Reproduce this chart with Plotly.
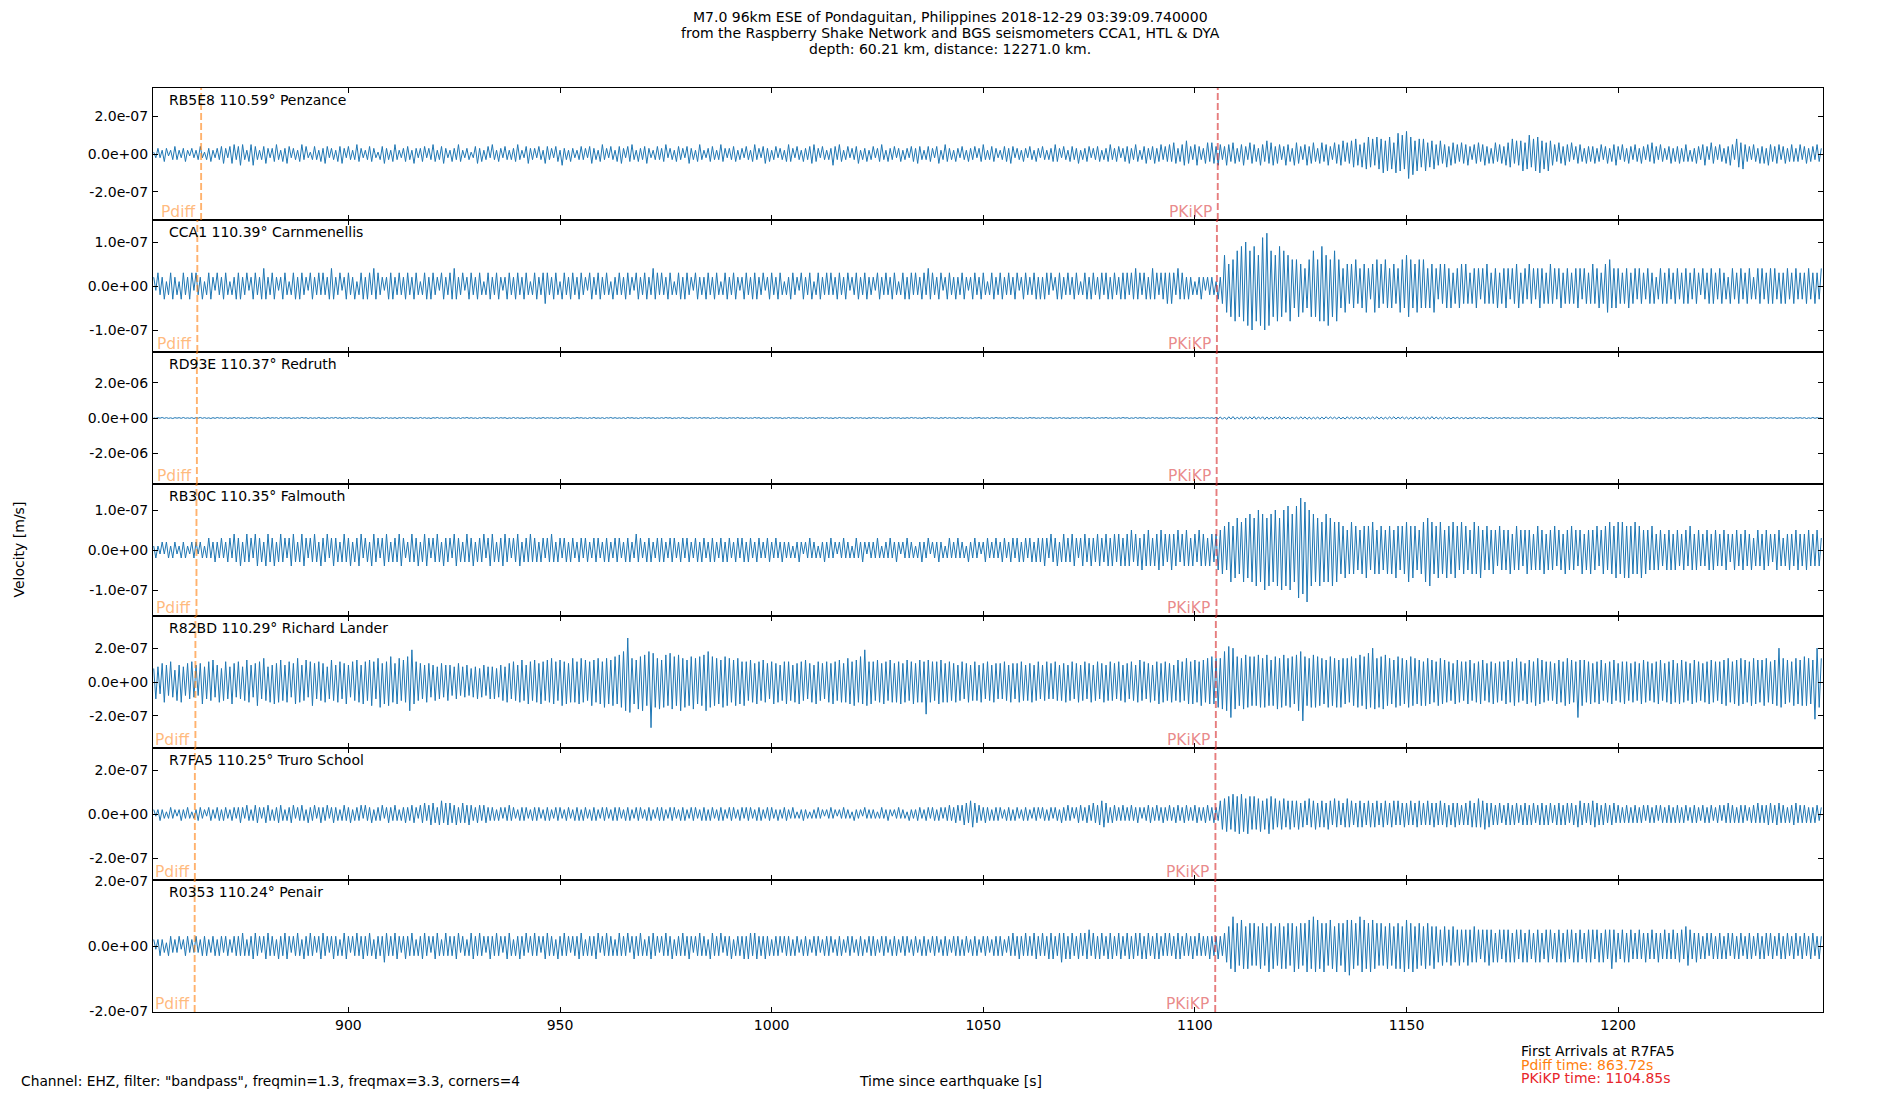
import plotly.graph_objects as go
from plotly.subplots import make_subplots

# ---------------- data: velocity samples in units of 1e-8 m/s, every DT seconds from T0 ----------------
T0 = 854.0
DT = 0.5
UNIT = 1e-8

stations = ["RB5E8 110.59° Penzance", "CCA1 110.39° Carnmenellis", "RD93E 110.37° Redruth",
            "RB30C 110.35° Falmouth", "R82BD 110.29° Richard Lander", "R7FA5 110.25° Truro School",
            "R0353 110.24° Penair"]

rb5e8 = [
    1,-2,3,-2,2,-4,3,-1,2,-3,4,-3,2,-2,3,-4,2,-1,3,-2,
    2,-3,4,-2,1,-3,3,-4,2,-2,3,-3,4,-5,3,-2,4,-5,5,-3,
    4,-6,5,-3,2,-4,5,-6,4,-3,2,-3,4,-5,3,-2,3,-4,5,-3,
    2,-4,3,-5,4,-2,3,-3,2,-4,5,-3,4,-2,1,-3,4,-3,2,-4,
    3,-5,4,-2,3,-3,2,-4,4,-5,3,-2,4,-3,2,-3,5,-4,3,-2,
    2,-3,4,-4,3,-2,1,-3,4,-5,3,-3,2,-4,5,-3,2,-2,3,-4,
    4,-3,2,-5,3,-2,3,-4,4,-2,3,-3,5,-4,2,-3,4,-5,3,-2,
    2,-4,3,-3,5,-4,2,-2,3,-3,1,-2,4,-5,3,-4,2,-3,4,-2,
    5,-3,2,-4,3,-2,4,-3,2,-3,3,-4,5,-3,2,-2,4,-5,3,-3,
    3,-2,4,-3,2,-5,4,-3,3,-2,4,-4,2,-6,3,-3,2,-4,3,-2,
    2,-3,4,-3,3,-2,4,-5,3,-3,2,-4,5,-3,3,-2,4,-3,2,-4,
    4,-5,3,-2,4,-4,5,-3,2,-4,3,-3,4,-5,3,-2,2,-3,4,-3,
    3,-4,5,-2,3,-3,2,-4,4,-3,3,-2,4,-5,3,-3,2,-4,5,-3,
    2,-2,3,-4,4,-3,2,-3,5,-4,3,-2,3,-3,4,-4,2,-3,3,-2,
    4,-3,2,-4,5,-3,3,-2,4,-5,3,-4,2,-3,4,-2,3,-3,2,-4,
    5,-4,3,-2,4,-3,2,-4,3,-3,4,-5,5,-4,3,-2,4,-3,2,-3,
    3,-6,4,-3,5,-4,2,-3,4,-2,3,-3,4,-5,2,-3,3,-4,2,-3,
    4,-2,3,-4,5,-3,2,-4,3,-3,4,-2,3,-4,2,-3,3,-2,4,-4,
    3,-5,4,-3,2,-3,4,-4,3,-2,4,-5,2,-3,5,-4,3,-3,2,-4,
    3,-2,4,-3,2,-4,3,-3,4,-2,3,-4,5,-3,2,-3,4,-4,3,-2,
    2,-3,4,-4,3,-5,4,-2,3,-3,2,-4,3,-2,4,-3,2,-4,3,-2,
    4,-3,2,-3,3,-4,5,-4,3,-2,4,-3,2,-4,4,-3,3,-5,2,-3,
    3,-4,4,-2,3,-3,4,-4,2,-3,3,-4,5,-3,3,-4,4,-2,3,-4,
    4,-5,3,-3,5,-4,2,-3,4,-5,3,-3,4,-5,3,-4,5,-3,4,-4,
    5,-4,6,-5,3,-4,5,-6,7,-5,4,-3,5,-6,4,-3,3,-5,6,-4,
    6,-5,4,-6,5,-3,4,-6,5,-4,6,-5,3,-4,5,-6,4,-3,6,-5,
    5,-4,3,-6,5,-4,7,-5,6,-6,4,-5,5,-3,4,-6,5,-4,3,-6,
    6,-5,4,-3,5,-6,4,-5,6,-4,3,-5,6,-4,5,-6,4,-3,6,-5,
    5,-6,7,-4,6,-5,7,-7,8,-6,5,-7,6,-8,9,-7,8,-6,9,-8,
    8,-10,7,-9,9,-8,6,-10,11,-9,10,-8,12,-13,9,-11,7,-9,8,-7,
    8,-9,6,-7,7,-8,5,-6,7,-5,5,-7,4,-6,6,-5,5,-4,6,-5,
    5,-6,4,-3,5,-5,6,-4,5,-6,4,-5,3,-5,6,-4,5,-5,4,-6,
    6,-7,8,-5,7,-6,7,-9,6,-8,10,-7,8,-9,9,-10,7,-8,6,-9,
    7,-6,5,-4,6,-5,4,-6,5,-4,6,-3,4,-5,5,-4,3,-5,4,-4,
    4,-5,3,-4,5,-3,4,-5,3,-4,5,-6,4,-3,5,-4,3,-5,4,-3,
    5,-4,3,-5,4,-3,5,-4,6,-5,4,-3,5,-4,3,-3,4,-5,3,-4,
    4,-5,3,-4,5,-4,2,-4,3,-5,4,-3,5,-6,4,-3,6,-5,4,-3,
    5,-4,3,-5,4,-6,5,-3,8,-7,6,-8,5,-4,4,-3,5,-4,3,-5,
    4,-5,3,-6,5,-4,4,-5,5,-3,4,-5,3,-4,5,-4,3,-4,5,-3,
    4,-5,3,-4,4,-3,5,-4,3]

cca1 = [
    2,-1,3,-2,2,-3,1,-2,3,-3,2,-2,1,-3,3,-2,2,-3,3,-1,
    3,-2,2,-3,1,-2,3,-3,2,-1,3,-2,2,-3,3,-2,1,-2,2,-3,
    3,-3,2,-2,3,-1,2,-3,3,-2,2,-3,4,-3,2,-2,3,-3,2,-1,
    2,-3,3,-2,1,-2,3,-3,2,-3,3,-2,2,-1,3,-3,2,-2,3,-2,
    3,-2,2,-3,4,-3,2,-2,3,-1,2,-3,3,-2,2,-3,1,-2,3,-3,
    2,-3,3,-2,4,-3,3,-2,2,-1,2,-3,3,-3,2,-2,3,-2,2,-3,
    3,-2,2,-3,3,-2,1,-2,3,-3,2,-3,3,-2,2,-1,3,-3,2,-2,
    3,-3,4,-3,2,-2,3,-1,2,-3,3,-2,2,-3,3,-2,1,-2,3,-3,
    2,-2,3,-3,2,-1,2,-3,3,-2,2,-3,3,-2,2,-3,3,-2,1,-2,
    3,-3,2,-2,3,-4,3,-2,2,-3,3,-2,1,-3,3,-2,2,-3,3,-2,
    2,-3,3,-2,2,-1,3,-3,2,-2,3,-3,2,-2,3,-2,1,-3,2,-2,
    3,-2,2,-3,3,-2,2,-1,3,-3,2,-2,3,-3,2,-2,4,-3,3,-2,
    3,-2,2,-3,3,-2,1,-2,3,-3,2,-3,3,-2,2,-1,3,-3,2,-2,
    2,-3,3,-2,2,-3,3,-2,1,-2,3,-3,2,-2,3,-3,2,-1,2,-3,
    3,-2,2,-3,3,-3,2,-2,3,-1,2,-3,3,-2,2,-3,3,-2,1,-2,
    2,-3,3,-2,2,-1,3,-3,2,-2,3,-3,1,-2,3,-3,2,-2,3,-2,
    3,-2,2,-3,3,-2,2,-3,3,-1,2,-2,3,-3,2,-2,3,-3,2,-2,
    2,-1,3,-3,2,-2,3,-2,2,-3,3,-2,1,-2,3,-3,2,-3,3,-2,
    3,-2,2,-3,3,-2,4,-3,3,-2,2,-3,3,-1,2,-3,3,-2,2,-3,
    2,-2,3,-3,2,-1,2,-3,3,-2,2,-3,3,-2,1,-2,3,-3,2,-2,
    3,-3,2,-2,3,-2,2,-3,3,-1,2,-3,3,-2,2,-2,3,-3,2,-3,
    2,-3,3,-2,3,-1,2,-3,3,-3,2,-2,3,-2,2,-3,3,-2,1,-2,
    3,-3,2,-3,3,-2,2,-3,3,-2,3,-3,2,-3,3,-2,2,-3,3,-3,
    3,-2,3,-3,4,-3,3,-2,3,-3,2,-3,4,-3,3,-2,3,-3,3,-4,
    3,-4,3,-2,4,-3,3,-3,2,-3,2,-2,1,-2,2,-3,2,-1,2,-2,
    2,-2,1,-3,2,-4,7,-6,5,-7,6,-8,8,-7,9,-8,10,-9,8,-10,
    9,-8,7,-9,11,-10,12,-9,8,-7,7,-8,9,-7,8,-6,7,-8,6,-5,
    6,-7,5,-6,4,-5,6,-7,8,-7,6,-8,9,-8,7,-9,6,-7,8,-8,
    6,-5,4,-6,5,-4,5,-5,6,-4,4,-5,5,-6,4,-3,5,-6,6,-5,
    5,-4,6,-5,4,-5,5,-4,4,-6,6,-5,7,-7,6,-5,5,-6,6,-5,
    6,-5,4,-5,5,-6,4,-3,5,-4,5,-5,4,-5,3,-4,4,-5,5,-4,
    5,-4,3,-4,4,-5,4,-3,4,-4,5,-4,3,-4,4,-5,3,-4,4,-5,
    4,-3,4,-4,5,-5,3,-4,4,-3,5,-4,4,-3,4,-5,4,-4,3,-4,
    5,-4,4,-3,4,-5,3,-4,4,-4,3,-4,4,-5,4,-3,4,-4,3,-4,
    5,-4,4,-5,3,-4,5,-6,6,-5,4,-5,4,-4,3,-4,4,-5,3,-4,
    4,-3,4,-4,3,-3,4,-4,3,-4,2,-3,4,-4,3,-4,4,-3,3,-4,
    4,-3,3,-4,4,-4,3,-3,4,-4,3,-2,4,-3,3,-4,4,-4,3,-3,
    4,-4,3,-3,2,-4,4,-3,3,-4,4,-3,3,-4,4,-3,2,-3,4,-4,
    4,-3,3,-4,4,-4,4,-3,3,-4,3,-4,4,-3,3,-4,4,-3,3,-3,
    3,-4,4,-3,3,-4,3,-3,4]

rd93e = [
    1,-2,2,-1,3,-2,2,-2,1,-3,2,-1,2,-2,3,-2,1,-2,2,-3,
    2,-1,3,-2,2,-2,1,-3,2,-2,3,-1,2,-2,2,-3,1,-2,3,-2,
    2,-2,1,-3,2,-2,3,-1,2,-2,2,-3,1,-2,3,-2,2,-1,2,-3,
    3,-2,2,-1,2,-3,1,-2,2,-2,3,-1,2,-3,2,-2,1,-2,3,-2,
    1,-3,2,-2,2,-1,3,-2,2,-3,1,-2,2,-2,3,-1,2,-2,1,-3,
    2,-2,3,-1,2,-2,1,-3,2,-2,3,-2,1,-2,2,-3,2,-1,3,-2,
    2,-1,2,-3,1,-2,3,-2,2,-2,1,-3,2,-1,3,-2,2,-2,1,-2,
    3,-2,1,-2,2,-3,2,-1,3,-2,2,-2,1,-3,2,-2,3,-1,2,-2,
    1,-2,3,-2,2,-1,2,-3,1,-2,3,-2,2,-2,1,-3,2,-1,2,-2,
    2,-3,1,-2,3,-2,2,-1,2,-2,1,-3,3,-2,2,-1,2,-3,1,-2,
    3,-1,2,-2,1,-3,2,-2,3,-2,1,-2,2,-3,2,-1,3,-2,2,-2,
    1,-2,2,-3,3,-1,2,-2,1,-3,2,-2,3,-1,2,-2,2,-3,1,-2,
    2,-2,3,-1,2,-3,1,-2,2,-2,3,-2,1,-3,2,-1,2,-2,3,-2,
    2,-1,2,-3,1,-2,3,-2,2,-2,1,-3,2,-1,2,-2,3,-2,1,-3,
    2,-2,1,-2,3,-1,2,-3,2,-2,1,-2,3,-2,2,-1,2,-3,1,-2,
    3,-2,2,-1,2,-2,1,-3,3,-2,2,-2,1,-3,2,-1,3,-2,2,-2,
    1,-3,2,-2,3,-1,2,-2,1,-2,3,-3,2,-1,2,-2,1,-3,2,-2,
    3,-1,2,-2,2,-3,1,-2,3,-2,2,-1,2,-3,1,-2,2,-2,3,-1,
    2,-2,1,-3,2,-2,3,-1,2,-2,1,-3,2,-2,3,-2,2,-1,1,-3,
    2,-2,3,-2,1,-2,2,-3,2,-1,3,-2,1,-2,2,-3,2,-2,3,-1,
    1,-2,2,-3,2,-1,3,-2,2,-2,1,-3,2,-2,3,-1,2,-2,1,-2,
    3,-2,2,-1,2,-3,1,-2,3,-2,2,-2,1,-3,2,-1,2,-2,3,-2,
    2,-1,3,-2,1,-3,2,-2,2,-1,3,-2,2,-3,1,-2,2,-2,3,-1,
    2,-3,1,-2,3,-2,2,-1,2,-3,1,-2,3,-2,2,-2,1,-3,2,-2,
    3,-1,2,-2,1,-3,2,-2,3,-2,1,-2,2,-3,2,-1,3,-2,2,-2,
    2,-3,4,-5,6,-7,5,-8,7,-6,8,-7,5,-6,7,-8,6,-5,7,-6,
    8,-7,6,-5,7,-8,6,-7,5,-6,7,-6,8,-7,6,-5,5,-7,6,-6,
    5,-6,7,-5,6,-7,5,-6,4,-5,6,-7,5,-6,7,-5,6,-4,5,-6,
    6,-5,4,-6,7,-5,6,-6,5,-4,6,-7,5,-6,4,-5,6,-5,7,-6,
    5,-6,4,-5,6,-5,7,-6,5,-4,6,-5,5,-6,4,-6,7,-6,5,-5,
    6,-7,5,-6,8,-6,5,-5,4,-6,5,-4,3,-5,4,-3,4,-4,3,-4,
    3,-4,2,-3,4,-3,2,-3,3,-2,3,-4,2,-3,3,-2,2,-3,3,-2,
    2,-3,3,-2,1,-2,3,-2,2,-3,2,-1,2,-3,3,-2,1,-2,2,-3,
    3,-2,2,-1,2,-3,1,-2,2,-2,3,-1,2,-3,2,-2,1,-2,3,-2,
    1,-3,2,-2,2,-1,3,-2,2,-3,1,-2,2,-2,3,-1,2,-2,1,-3,
    2,-2,3,-1,2,-2,1,-3,2,-2,3,-2,1,-2,2,-3,2,-1,3,-2,
    2,-1,2,-3,1,-2,3,-2,2,-2,1,-3,2,-1,3,-2,2,-2,1,-2,
    3,-2,1,-2,2,-3,2,-1,3,-2,2,-2,1,-3,2,-2,3,-1,2,-2,
    1,-2,3,-2,2,-1,2,-3,1,-2,3,-2,2,-2,1,-3,2,-1,2,-2,
    2,-3,1,-2,3,-2,2,-1,2]

rb30c = [
    1,-2,1,-1,2,-1,2,-2,1,-2,2,-1,1,-2,2,-2,1,-1,2,-2,
    2,-1,2,-2,1,-2,3,-2,2,-3,2,-2,3,-2,2,-3,3,-2,4,-3,
    3,-4,2,-3,4,-3,3,-2,4,-4,3,-3,2,-4,4,-3,3,-4,2,-3,
    4,-3,3,-2,3,-4,4,-3,2,-3,4,-4,3,-2,3,-3,4,-3,2,-4,
    3,-3,4,-2,3,-4,3,-3,2,-3,4,-3,3,-4,2,-3,3,-4,4,-2,
    3,-3,2,-4,4,-3,3,-2,3,-4,4,-3,2,-3,3,-3,4,-4,3,-2,
    2,-3,4,-3,3,-4,2,-3,4,-4,3,-2,3,-3,4,-3,2,-4,3,-3,
    3,-2,4,-4,3,-3,2,-3,4,-3,3,-4,2,-3,3,-3,4,-2,3,-4,
    4,-3,2,-3,3,-4,4,-3,3,-2,3,-3,4,-4,2,-3,3,-3,4,-3,
    3,-3,2,-3,3,-2,3,-3,4,-3,2,-3,3,-2,3,-3,2,-3,3,-2,
    2,-3,3,-2,3,-3,2,-2,3,-3,3,-2,2,-3,3,-3,2,-2,3,-3,
    3,-2,2,-3,3,-3,2,-2,4,-3,3,-2,2,-3,3,-3,2,-2,3,-3,
    3,-3,2,-2,3,-3,3,-2,2,-3,3,-2,3,-3,2,-2,3,-3,2,-3,
    3,-2,2,-3,3,-3,2,-2,3,-3,2,-3,3,-2,2,-3,3,-2,3,-3,
    2,-3,3,-2,2,-3,3,-2,2,-2,3,-3,2,-2,3,-2,2,-3,2,-2,
    2,-2,1,-2,2,-3,2,-1,2,-2,3,-2,2,-2,1,-2,2,-3,2,-2,
    3,-2,2,-1,2,-2,3,-2,2,-2,1,-2,3,-2,2,-3,2,-1,2,-2,
    2,-2,3,-2,1,-2,2,-2,3,-2,2,-3,2,-1,2,-2,3,-2,2,-2,
    1,-2,2,-3,2,-2,3,-1,2,-2,2,-3,2,-2,1,-2,3,-2,2,-2,
    3,-2,2,-2,1,-3,2,-2,3,-2,2,-1,2,-3,3,-2,2,-2,3,-2,
    2,-3,3,-2,2,-3,3,-2,3,-3,2,-3,3,-2,3,-3,2,-3,3,-3,
    3,-4,3,-2,4,-3,3,-4,2,-3,4,-3,3,-3,4,-4,3,-2,3,-4,
    4,-3,3,-4,3,-3,4,-4,3,-3,4,-4,3,-4,4,-3,4,-4,3,-4,
    4,-4,5,-3,4,-4,3,-5,4,-4,5,-4,3,-4,4,-5,5,-4,4,-3,
    4,-5,4,-4,5,-3,4,-4,5,-4,3,-4,4,-3,5,-4,4,-4,3,-4,
    4,-3,4,-5,5,-6,6,-5,7,-8,6,-7,8,-6,7,-8,8,-7,9,-8,
    8,-9,10,-8,9,-10,8,-9,9,-8,10,-9,8,-10,10,-9,11,-10,9,-8,
    11,-12,13,-11,12,-13,10,-9,9,-8,8,-9,7,-8,9,-8,8,-9,7,-8,
    7,-6,6,-7,5,-6,7,-6,6,-5,5,-6,6,-7,6,-5,7,-6,5,-6,
    6,-5,5,-6,6,-6,5,-7,6,-5,6,-6,7,-8,6,-7,6,-5,5,-6,
    7,-8,8,-9,7,-6,6,-7,7,-6,5,-7,6,-6,7,-7,6,-5,7,-6,
    6,-5,5,-6,7,-6,6,-7,5,-5,6,-5,5,-6,5,-4,6,-5,5,-5,
    5,-6,4,-5,6,-5,5,-4,5,-6,5,-5,4,-5,6,-5,5,-6,4,-5,
    5,-5,6,-4,5,-5,4,-6,5,-5,6,-5,5,-4,5,-6,4,-5,5,-6,
    5,-5,6,-4,5,-6,6,-5,7,-6,6,-7,7,-6,7,-7,6,-7,6,-6,
    7,-6,6,-7,5,-6,5,-5,6,-5,4,-5,5,-4,4,-5,5,-5,4,-5,
    5,-4,4,-5,5,-4,6,-5,4,-5,5,-4,4,-4,5,-5,4,-5,5,-4,
    4,-4,5,-5,4,-3,4,-5,5,-4,4,-5,5,-4,4,-5,3,-4,5,-4,
    4,-5,5,-4,4,-3,4,-5,5,-4,3,-4,4,-5,4,-4,5,-5,4,-4,
    4,-5,5,-4,4,-4,5,-4,3]

r82bd = [
    8,-10,9,-7,11,-12,10,-8,12,-9,7,-11,10,-12,9,-8,11,-10,12,-9,
    10,-8,11,-13,9,-10,12,-11,13,-9,10,-12,8,-11,12,-10,9,-13,11,-9,
    12,-10,9,-11,13,-12,10,-9,11,-14,12,-10,14,-11,9,-12,10,-13,11,-12,
    13,-11,10,-12,12,-9,11,-13,14,-12,10,-11,13,-9,12,-14,11,-10,12,-11,
    11,-12,9,-10,13,-11,10,-12,12,-10,11,-13,10,-9,12,-11,13,-12,10,-13,
    12,-11,13,-14,12,-10,14,-15,11,-13,12,-14,15,-12,11,-13,14,-11,13,-12,
    15,-17,19,-13,12,-11,11,-10,10,-12,11,-9,10,-11,9,-10,11,-9,10,-11,
    10,-8,9,-10,11,-8,9,-9,10,-8,8,-9,9,-10,8,-9,10,-8,9,-10,
    9,-10,8,-9,10,-11,9,-12,11,-10,12,-11,10,-12,13,-11,10,-13,12,-11,
    13,-12,11,-13,12,-11,13,-12,14,-13,12,-11,13,-14,12,-13,11,-12,14,-12,
    12,-13,14,-12,13,-11,12,-14,13,-12,14,-13,12,-15,14,-13,13,-14,15,-13,
    16,-15,18,-17,26,-18,14,-13,13,-16,15,-17,16,-14,18,-27,17,-15,14,-16,
    13,-15,16,-14,17,-16,15,-14,16,-17,14,-15,13,-14,15,-16,14,-13,15,-14,
    16,-17,18,-15,15,-14,14,-13,13,-15,15,-14,14,-12,13,-14,14,-13,12,-14,
    12,-11,13,-12,11,-13,12,-11,13,-12,11,-10,12,-13,11,-12,10,-11,12,-13,
    12,-11,10,-12,11,-13,12,-11,13,-10,11,-12,10,-13,12,-11,11,-10,12,-12,
    11,-13,12,-11,13,-12,11,-12,14,-13,12,-14,13,-12,15,-13,19,-14,12,-13,
    12,-11,13,-12,11,-13,12,-11,13,-12,11,-12,12,-13,11,-12,13,-11,12,-13,
    11,-12,13,-12,12,-19,13,-12,12,-11,12,-13,13,-12,11,-12,12,-11,11,-12,
    10,-11,12,-10,11,-12,10,-11,12,-11,10,-12,11,-10,12,-11,10,-12,11,-10,
    11,-10,12,-11,10,-12,11,-10,11,-12,12,-11,10,-11,11,-12,10,-11,12,-10,
    10,-11,12,-10,11,-10,12,-11,10,-11,11,-12,10,-11,12,-10,11,-12,10,-11,
    12,-10,11,-12,10,-11,12,-10,11,-12,10,-11,12,-11,11,-10,12,-11,10,-12,
    11,-10,12,-11,10,-12,13,-11,12,-10,11,-12,10,-11,12,-13,11,-12,12,-11,
    11,-12,10,-11,13,-12,12,-11,14,-13,12,-13,13,-12,12,-14,13,-12,14,-13,
    15,-13,14,-15,14,-16,18,-17,21,-21,20,-16,15,-14,14,-16,16,-15,15,-14,
    15,-14,16,-15,14,-15,16,-14,13,-14,15,-16,14,-15,16,-14,14,-15,15,-13,
    16,-17,18,-23,15,-14,14,-15,16,-15,15,-14,14,-13,13,-15,15,-14,14,-15,
    13,-15,14,-13,14,-12,15,-14,14,-15,16,-14,15,-16,17,-15,20,-16,14,-15,
    15,-16,16,-14,14,-13,13,-15,15,-14,14,-13,13,-15,15,-14,14,-13,13,-14,
    12,-14,14,-13,13,-12,12,-14,14,-13,13,-12,12,-11,11,-13,13,-12,12,-11,
    12,-13,13,-11,11,-12,12,-13,13,-11,11,-12,12,-13,11,-12,12,-11,12,-13,
    13,-12,12,-14,14,-12,12,-11,11,-13,13,-12,12,-14,14,-13,13,-12,12,-11,
    12,-11,11,-13,13,-12,12,-14,14,-13,13,-12,12,-21,13,-14,13,-12,12,-13,
    11,-12,12,-13,13,-11,11,-12,12,-13,13,-11,11,-12,12,-13,12,-11,11,-12,
    12,-11,11,-13,13,-12,12,-11,11,-12,12,-13,13,-11,11,-12,12,-13,13,-12,
    11,-13,13,-12,12,-11,11,-13,13,-12,12,-11,11,-12,12,-13,13,-12,12,-11,
    12,-13,13,-14,14,-12,12,-13,13,-14,14,-13,13,-12,12,-14,14,-13,13,-12,
    13,-14,14,-12,12,-13,13,-14,20,-15,14,-13,13,-12,12,-14,14,-13,13,-14,
    15,-14,14,-13,13,-22,20,-15,14]

r7fa5 = [
    2,-1,2,-3,2,-2,1,-2,3,-2,2,-1,2,-3,2,-2,3,-2,1,-2,
    2,-3,3,-2,2,-1,3,-3,2,-2,3,-3,2,-3,3,-2,2,-3,3,-2,
    3,-4,3,-2,4,-3,2,-3,4,-4,3,-2,3,-4,4,-3,2,-3,3,-4,
    4,-3,2,-3,3,-4,4,-2,3,-3,4,-3,2,-4,3,-3,4,-2,3,-4,
    3,-3,4,-2,3,-4,3,-3,2,-3,4,-3,3,-4,2,-3,3,-3,4,-2,
    4,-3,3,-4,2,-3,3,-3,4,-2,3,-4,3,-3,4,-3,2,-3,3,-4,
    3,-3,4,-4,3,-2,4,-4,5,-3,4,-5,5,-4,3,-5,6,-4,5,-5,
    5,-4,4,-5,3,-4,5,-4,4,-5,4,-3,3,-4,4,-3,4,-4,3,-3,
    3,-3,2,-3,3,-2,3,-3,4,-3,3,-2,2,-3,3,-3,3,-2,2,-3,
    3,-3,3,-2,2,-3,3,-3,2,-2,3,-3,3,-2,2,-3,3,-2,2,-3,
    3,-3,2,-3,3,-2,2,-3,3,-3,2,-2,3,-3,3,-2,2,-3,3,-3,
    3,-2,2,-3,3,-3,2,-2,3,-3,3,-2,2,-3,3,-3,2,-2,3,-3,
    3,-3,2,-2,3,-3,3,-2,2,-3,3,-3,2,-2,3,-3,3,-2,2,-3,
    3,-3,2,-3,3,-2,2,-3,3,-3,2,-2,3,-3,3,-2,2,-3,3,-2,
    3,-3,3,-2,2,-3,3,-3,2,-2,3,-3,3,-2,2,-3,2,-2,3,-3,
    2,-2,3,-2,1,-2,2,-3,2,-2,1,-2,2,-2,3,-2,2,-1,2,-2,
    3,-2,2,-1,2,-2,3,-2,2,-2,1,-3,2,-2,2,-1,3,-2,2,-2,
    2,-2,1,-2,3,-2,2,-3,2,-1,2,-2,3,-2,2,-2,1,-3,2,-2,
    2,-3,3,-2,2,-3,3,-2,3,-3,2,-3,3,-2,3,-3,4,-3,3,-4,
    4,-3,4,-5,5,-4,6,-6,5,-4,4,-3,3,-4,3,-3,2,-3,3,-3,
    3,-2,2,-3,3,-3,2,-3,3,-2,2,-3,3,-3,2,-2,3,-3,3,-2,
    3,-3,2,-3,3,-2,3,-3,2,-4,3,-3,4,-3,3,-2,3,-4,4,-3,
    3,-4,4,-3,5,-4,4,-5,6,-6,5,-4,3,-4,4,-3,3,-3,4,-3,
    3,-3,4,-3,3,-4,3,-2,3,-3,4,-4,3,-3,4,-3,3,-4,3,-3,
    4,-3,3,-4,4,-3,3,-4,4,-3,3,-3,4,-4,3,-3,3,-4,4,-3,
    3,-4,3,-3,6,-7,7,-8,8,-7,9,-8,8,-9,9,-8,7,-9,8,-7,
    8,-7,7,-8,6,-7,7,-9,8,-7,7,-6,6,-7,7,-6,6,-7,6,-6,
    6,-7,5,-6,6,-5,7,-6,6,-7,5,-6,6,-6,5,-7,6,-5,7,-6,
    6,-5,5,-6,7,-6,6,-5,5,-6,6,-6,5,-5,6,-6,5,-6,6,-5,
    5,-6,6,-5,5,-6,6,-5,6,-5,5,-6,5,-5,6,-5,5,-6,6,-5,
    5,-5,6,-5,5,-6,5,-5,6,-5,5,-6,4,-5,5,-6,5,-5,4,-5,
    5,-5,6,-6,5,-6,7,-6,6,-7,5,-6,5,-5,4,-5,5,-4,4,-5,
    5,-5,4,-5,5,-4,4,-5,5,-5,4,-5,5,-4,4,-5,5,-5,4,-5,
    5,-4,4,-5,5,-5,4,-5,5,-4,5,-5,4,-6,6,-5,5,-4,5,-5,
    6,-6,5,-5,4,-5,5,-4,4,-5,5,-4,4,-4,3,-4,4,-4,3,-4,
    4,-4,3,-4,4,-3,4,-4,3,-4,4,-3,4,-4,3,-4,4,-4,3,-4,
    4,-4,3,-4,4,-3,3,-4,4,-4,3,-3,4,-4,3,-4,4,-3,3,-4,
    4,-3,4,-4,5,-4,4,-4,3,-4,4,-4,4,-3,3,-4,4,-4,5,-4,
    4,-4,4,-5,5,-4,4,-5,5,-4,4,-4,3,-4,4,-5,5,-4,4,-4,
    4,-4,3,-4,3,-4,4,-3,3]

r0353 = [
    2,-1,2,-3,2,-2,1,-3,3,-2,2,-2,3,-1,2,-3,3,-2,2,-2,
    3,-2,2,-3,3,-3,2,-2,3,-3,2,-3,3,-2,3,-3,2,-2,3,-3,
    3,-3,4,-3,2,-3,3,-4,4,-3,3,-2,3,-4,4,-3,3,-3,2,-4,
    3,-3,4,-4,3,-2,3,-3,4,-3,2,-4,3,-3,4,-3,3,-2,3,-4,
    4,-3,3,-2,3,-4,3,-3,2,-3,4,-4,3,-2,3,-3,4,-3,3,-4,
    3,-3,4,-3,2,-4,3,-3,3,-5,4,-3,3,-3,4,-4,3,-2,3,-4,
    3,-3,4,-3,2,-3,3,-4,4,-3,3,-2,3,-4,4,-3,2,-3,4,-3,
    3,-3,3,-4,4,-2,3,-3,2,-3,4,-4,3,-3,4,-3,3,-2,3,-4,
    3,-3,4,-3,3,-2,3,-4,4,-3,2,-3,3,-4,3,-3,4,-2,3,-3,
    4,-3,3,-2,3,-4,4,-3,3,-3,2,-4,3,-3,4,-3,3,-2,3,-3,
    3,-4,4,-3,2,-3,3,-3,3,-4,4,-2,3,-3,4,-3,3,-3,2,-3,
    4,-3,3,-3,4,-2,3,-4,3,-3,4,-3,2,-3,3,-4,4,-3,3,-2,
    3,-3,4,-3,3,-4,2,-3,3,-3,4,-3,3,-4,3,-2,3,-3,4,-3,
    3,-3,2,-4,4,-3,3,-3,4,-2,3,-3,3,-4,2,-3,3,-3,3,-4,
    3,-4,4,-3,4,-4,3,-3,3,-4,3,-3,2,-3,3,-3,3,-2,3,-3,
    3,-3,2,-3,3,-2,2,-3,3,-3,2,-2,3,-3,3,-2,2,-3,3,-3,
    3,-2,2,-3,3,-3,2,-2,3,-3,3,-2,2,-3,3,-3,2,-2,3,-3,
    3,-3,2,-2,3,-3,3,-2,2,-3,3,-3,2,-2,3,-3,3,-2,2,-3,
    3,-2,2,-3,3,-3,2,-2,3,-3,3,-2,2,-3,3,-3,2,-2,3,-3,
    3,-3,2,-3,3,-2,2,-3,3,-3,2,-2,3,-3,3,-2,2,-3,3,-3,
    3,-3,2,-2,3,-3,4,-3,3,-4,3,-3,4,-3,3,-3,4,-4,3,-3,
    4,-3,3,-4,4,-4,3,-3,4,-5,4,-4,3,-4,4,-3,3,-4,4,-3,
    4,-4,5,-3,4,-4,3,-4,4,-3,3,-4,4,-4,3,-3,4,-4,3,-3,
    4,-4,3,-4,4,-3,4,-4,3,-4,4,-3,3,-4,4,-4,3,-3,4,-3,
    4,-3,3,-4,4,-4,3,-3,4,-3,3,-4,3,-3,4,-3,3,-3,3,-4,
    3,-3,3,-4,3,-3,4,-5,6,-7,9,-8,7,-6,8,-7,6,-7,7,-6,
    7,-6,6,-7,7,-6,6,-8,7,-7,6,-6,7,-7,6,-7,7,-6,7,-8,
    6,-7,7,-6,7,-8,8,-7,9,-8,8,-7,7,-8,7,-6,8,-7,6,-8,
    7,-6,7,-8,8,-9,8,-7,7,-6,9,-8,8,-7,7,-8,8,-7,7,-6,
    7,-6,6,-7,7,-6,6,-7,7,-7,6,-8,8,-7,7,-8,6,-7,7,-6,
    6,-7,7,-6,6,-7,6,-5,5,-6,6,-5,5,-6,6,-5,5,-6,5,-5,
    5,-6,5,-5,6,-5,5,-4,5,-5,5,-6,5,-5,4,-5,5,-4,5,-5,
    5,-5,4,-5,5,-4,5,-5,4,-5,5,-4,4,-5,5,-5,4,-4,5,-5,
    5,-4,4,-5,5,-5,4,-5,5,-4,5,-5,4,-5,5,-4,4,-5,5,-5,
    5,-4,5,-5,4,-5,5,-4,5,-7,5,-5,4,-4,5,-5,4,-5,5,-4,
    4,-4,5,-4,4,-5,4,-4,5,-4,4,-5,4,-4,5,-4,4,-4,5,-4,
    4,-5,5,-4,6,-6,5,-4,4,-5,4,-4,3,-4,4,-3,4,-4,3,-4,
    4,-4,3,-4,4,-3,4,-4,3,-4,4,-3,3,-4,4,-4,3,-3,4,-4,
    3,-4,4,-3,4,-4,3,-3,4,-4,3,-4,4,-3,3,-4,4,-3,3,-4,
    4,-3,3,-4,4,-3,3,-4,3]

traces = [rb5e8, cca1, rd93e, rb30c, r82bd, r7fa5, r0353]

y_half_range = [3.5e-7, 1.5e-7, 3.75e-6, 1.65e-7, 3.9e-7, 3.0e-7, 2.03e-7]
y_tick_vals = [[2e-7, 0, -2e-7], [1e-7, 0, -1e-7], [2e-6, 0, -2e-6], [1e-7, 0, -1e-7],
               [2e-7, 0, -2e-7], [2e-7, 0, -2e-7], [2e-7, 0, -2e-7]]
y_tick_text = [["2.0e-07", "0.0e+00", "-2.0e-07"], ["1.0e-07", "0.0e+00", "-1.0e-07"],
               ["2.0e-06", "0.0e+00", "-2.0e-06"], ["1.0e-07", "0.0e+00", "-1.0e-07"],
               ["2.0e-07", "0.0e+00", "-2.0e-07"], ["2.0e-07", "0.0e+00", "-2.0e-07"],
               ["2.0e-07", "0.0e+00", "-2.0e-07"]]

pdiff_times = [865.2, 864.3, 864.2, 864.1, 863.85, 863.72, 863.67]
pkikp_times = [1105.4, 1105.2, 1105.15, 1105.1, 1104.95, 1104.85, 1104.8]

x_range = [853.83, 1248.4]
x_tick_vals = [900, 950, 1000, 1050, 1100, 1150, 1200]

title_lines = ["M7.0 96km ESE of Pondaguitan, Philippines 2018-12-29 03:39:09.740000",
               "from the Raspberry Shake Network and BGS seismometers CCA1, HTL &amp; DYA",
               "depth: 60.21 km, distance: 12271.0 km."]

# ---------------- layout geometry (pixels) ----------------
W, H = 1900, 1100
PL, PR, PT, PB = 152.5, 1823.3, 88, 1012
FONT = "DejaVu Sans"
TRACE_COLOR = "#1f77b4"
PDIFF_LINE = "rgba(255,127,14,0.6)"
PDIFF_TEXT = "rgba(255,127,14,0.55)"
PKIKP_LINE = "rgba(214,39,40,0.6)"
PKIKP_TEXT = "rgba(214,39,40,0.55)"


def px_x(px):
    return (px - PL) / (PR - PL)


def px_y(py):
    return (PB - py) / (PB - PT)


n = len(traces)
fig = make_subplots(rows=n, cols=1, shared_xaxes=True, vertical_spacing=0)

for i, vals in enumerate(traces):
    times = [T0 + DT * k for k in range(len(vals))]
    r = i + 1
    fig.add_trace(go.Scatter(x=times, y=[v * UNIT for v in vals], mode="lines",
                             line=dict(color=TRACE_COLOR, width=1), showlegend=False,
                             hoverinfo="skip"), row=r, col=1)
    fig.update_yaxes(range=[-y_half_range[i], y_half_range[i]], tickvals=y_tick_vals[i],
                     ticktext=y_tick_text[i], row=r, col=1)
    xs = "x" if r == 1 else f"x{r}"
    ys = "y" if r == 1 else f"y{r}"
    for t, lc, tc, label in ((pdiff_times[i], PDIFF_LINE, PDIFF_TEXT, "Pdiff"),
                             (pkikp_times[i], PKIKP_LINE, PKIKP_TEXT, "PKiKP")):
        fig.add_shape(type="line", xref=xs, yref=f"{ys} domain", x0=t, x1=t, y0=0, y1=1,
                      line=dict(color=lc, width=1.9, dash="7px,3px"))
        fig.add_annotation(text=label, xref=xs, yref=f"{ys} domain", x=t, y=0,
                           xanchor="right", yanchor="middle", xshift=-4, yshift=8.5,
                           showarrow=False, font=dict(family=FONT, size=15.5, color=tc))
    fig.add_annotation(text=stations[i], xref=f"{xs} domain", yref=f"{ys} domain", x=0, y=1,
                       xanchor="left", yanchor="middle", xshift=14, yshift=-11.5,
                       showarrow=False, font=dict(family=FONT, size=14, color="black"))

fig.update_xaxes(range=x_range, tickvals=x_tick_vals, showline=True, linecolor="black",
                 linewidth=1.1, mirror="allticks", ticks="inside", ticklen=5, tickwidth=1,
                 tickcolor="black", showgrid=False, zeroline=False,
                 tickfont=dict(family=FONT, size=14, color="black"))
fig.update_xaxes(showticklabels=True, row=n, col=1)
fig.update_yaxes(showline=True, linecolor="black", linewidth=1.1, mirror="allticks",
                 ticks="inside", ticklen=5, tickwidth=1, tickcolor="black", showgrid=False,
                 zeroline=False, tickfont=dict(family=FONT, size=14, color="black"),
                 ticklabelstandoff=1)

# title lines
for line, py in zip(title_lines, [16.7, 33.3, 49.5]):
    fig.add_annotation(text=line, xref="paper", yref="paper", x=px_x(950), y=px_y(py),
                       xanchor="center", yanchor="middle", showarrow=False,
                       font=dict(family=FONT, size=14, color="black"))

# y label
fig.add_annotation(text="Velocity [m/s]", xref="paper", yref="paper", x=px_x(18), y=px_y(550),
                   xanchor="center", yanchor="middle", textangle=-90, showarrow=False,
                   font=dict(family=FONT, size=14, color="black"))

# footer
fig.add_annotation(text='Channel: EHZ, filter: "bandpass", freqmin=1.3, freqmax=3.3, corners=4',
                   xref="paper", yref="paper", x=px_x(18.5), y=px_y(1081), xanchor="left",
                   yanchor="middle", showarrow=False, font=dict(family=FONT, size=13.8, color="black"))
fig.add_annotation(text="Time since earthquake [s]", xref="paper", yref="paper", x=px_x(950),
                   y=px_y(1081), xanchor="center", yanchor="middle", showarrow=False,
                   font=dict(family=FONT, size=14, color="black"))
footer_right = [("First Arrivals at R7FA5", "black", 1051),
                ("Pdiff time: 863.72s", "#ff7f0e", 1064.5),
                ("PKiKP time: 1104.85s", "#e8262b", 1078)]
for txt, col, py in footer_right:
    fig.add_annotation(text=txt, xref="paper", yref="paper", x=px_x(1519), y=px_y(py),
                       xanchor="left", yanchor="middle", showarrow=False,
                       font=dict(family=FONT, size=14, color=col))

fig.update_layout(width=W, height=H, autosize=False, plot_bgcolor="white", paper_bgcolor="white",
                  margin=dict(l=PL, r=W - PR, t=PT, b=H - PB, pad=0), showlegend=False,
                  font=dict(family=FONT, size=14, color="black"))

fig.write_html("out.html", config={"displayModeBar": False},
               post_script="document.body.style.margin='0';")
